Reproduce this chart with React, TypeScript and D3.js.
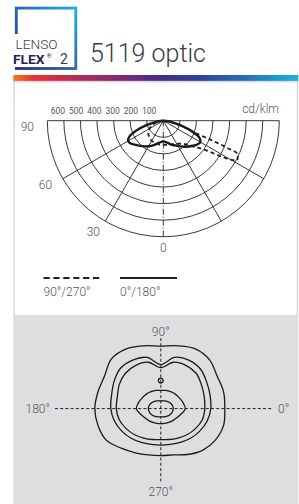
import React from 'react';
import * as d3 from 'd3';

// polar diagram (cd/klm), angle from nadir in degrees
const ringValues = [100, 200, 300, 400, 500, 600, 700];
const ringLabels = [100, 200, 300, 400, 500, 600];
const spokeAngles = [30, 60];
const angleLabels = ['0', '30', '60', '90'];

const solidAngles = [0, 10, 20, 30, 40, 50, 55, 60, 65, 70, 75, 80, 85, 90];
const plane0 = [125, 135, 155, 175, 205, 235, 250, 258, 240, 180, 105, 55, 20, 0];
const plane180 = [125, 135, 155, 178, 200, 225, 240, 245, 225, 170, 105, 50, 18, 0];

const dashAngles = [0, 10, 20, 30, 40, 45, 50, 55, 58, 60, 62, 64, 66, 67, 68, 69, 72, 76, 80, 85, 90];
const plane90 = [145, 148, 152, 162, 180, 205, 245, 307, 400, 470, 505, 500, 490, 420, 320, 215, 145, 85, 45, 15, 0];
const plane270 = [145, 145, 142, 140, 130, 125, 118, 108, 100, 95, 90, 84, 78, 75, 72, 69, 58, 45, 30, 14, 0];

const legendNames = ['90°/270°', '0°/180°'];

// isolux contours, angle 0 = right, counter clockwise, every 15 degrees
const isoAngles = d3.range(0, 360, 15);
const iso1 = [64, 65, 65, 69, 69, 65, 62.5, 65, 69, 70, 65, 65, 66, 65, 63, 56, 51, 48, 47, 48, 53, 59, 63, 65];
const iso2 = [50, 51, 53, 56, 56, 53, 44, 53, 56, 57, 54, 51, 50, 48, 45, 42, 39, 37, 36.5, 37, 39, 42, 45, 48];
const iso3 = [44, 45, 47, 50, 50, 48, 41, 48, 50, 50, 48, 45, 44.5, 43, 40, 37, 34, 32, 31, 32, 34, 37, 40, 43];
const iso4 = [24.5, 23, 21.5, 20.5, 19.5, 18.8, 18.3, 18.8, 19.5, 20.5, 21.5, 23, 24.5, 21, 18.5, 17, 16, 15.3, 15, 15.3, 16, 17, 18.5, 21];
const iso5 = [12.5, 12, 11, 10, 8.8, 8.1, 7.8, 8.1, 8.8, 10, 11, 12, 12.5, 12, 11.2, 10.3, 9.2, 8.5, 8.3, 8.5, 9.2, 10.3, 11.2, 12];
const isoDot = 28;
const isoLabels = ['0°', '90°', '180°', '270°'];

const W = 299;
const H = 504;
const font = 'Roboto, "Open Sans", sans-serif';

export default function App() {
  const cx = 163.3;
  const cy = 120.7;
  const R = 116;
  const r = d3.scaleLinear().domain([0, 700]).range([0, R]);
  const rad = (deg: number) => (deg * Math.PI) / 180;

  const polar = d3
    .lineRadial<[number, number]>()
    .angle((d) => d[0])
    .radius((d) => r(d[1]))
    .curve(d3.curveCatmullRom.alpha(0.5));

  const both = (angles: number[], left: number[], right: number[]) => {
    const pts: [number, number][] = [];
    for (let i = angles.length - 1; i >= 0; i--) pts.push([Math.PI + rad(angles[i]), left[i]]);
    for (let i = 1; i < angles.length; i++) pts.push([Math.PI - rad(angles[i]), right[i]]);
    return polar(pts) || '';
  };

  const ringPath = (v: number) => {
    const p = d3.path();
    p.moveTo(cx + r(v), cy);
    p.arc(cx, cy, r(v), 0, Math.PI);
    return p.toString();
  };

  // lower plot
  const ix = 160.8;
  const iy = 408.6;
  const s = d3.scaleLinear().domain([0, 10]).range([0, 10]);
  const iso = d3
    .lineRadial<[number, number]>()
    .angle((d) => Math.PI / 2 - rad(d[0]))
    .radius((d) => s(d[1]))
    .curve(d3.curveCatmullRomClosed.alpha(0.5));
  const contour = (vals: number[]) => iso(isoAngles.map((a, i) => [a, vals[i]] as [number, number])) || '';

  const grad = [
    ['0%', '#f47a20'],
    ['7%', '#e8313a'],
    ['22%', '#b82a55'],
    ['38%', '#7e2a74'],
    ['52%', '#452b88'],
    ['66%', '#2f4596'],
    ['82%', '#2a70b3'],
    ['100%', '#17b6de'],
  ];

  const labelColor = '#555';

  return (
    <svg width={W} height={H} style={{ position: 'absolute', left: 0, top: 0, fontFamily: font }}>
      <defs>
        <linearGradient id="bar" x1="0" x2="1" y1="0" y2="0">
          {grad.map(([o, c]) => (
            <stop key={o} offset={o} stopColor={c} />
          ))}
        </linearGradient>
        <linearGradient id="logo" x1="0" y1="1" x2="1" y2="0">
          <stop offset="0%" stopColor="#2b2e80" />
          <stop offset="45%" stopColor="#2a5fae" />
          <stop offset="100%" stopColor="#18b0e0" />
        </linearGradient>
      </defs>
      <rect x={0} y={0} width={W} height={H} fill="#fff" />

      {/* logo */}
      <rect x={16.3} y={8.1} width={59.5} height={60.4} fill="none" stroke="url(#logo)" strokeWidth={2.8} />
      <rect x={12} y={34} width={8} height={33} fill="#fff" />
      <text x={15.5} y={48.6} fontSize={13.5} fontWeight={300} fill="#3a3a3a" textLength={42} lengthAdjust="spacingAndGlyphs">
        LENSO
      </text>
      <text x={13} y={64} fontSize={13} fontWeight={700} fill="#1f2550" textLength={31.5} lengthAdjust="spacingAndGlyphs">
        FLEX
      </text>
      <text x={46.8} y={58.3} fontSize={6} fontWeight={700} fill="#1f2550">
        ®
      </text>
      <text x={60} y={64} fontSize={14} fontWeight={400} fill="#2a3a70">
        2
      </text>
      <text x={90} y={61.8} fontSize={25} fontWeight={300} fill="#3c3c3c">
        5119 optic
      </text>

      {/* gradient bar and panels */}
      <rect x={13.3} y={75} width={285} height={6.7} fill="url(#bar)" />
      <rect x={14.2} y={81.7} width={283.3} height={234} fill="#fff" stroke="#dcdcdc" strokeWidth={1.7} />
      <rect x={13.3} y={315} width={285} height={H - 315} fill="#dddee0" />

      {/* polar grid */}
      <g fill="none" stroke="#222" strokeWidth={0.9}>
        {ringValues.map((v) => (
          <path key={v} d={ringPath(v)} />
        ))}
        <line x1={cx - R} x2={cx + R} y1={cy} y2={cy} />
        {spokeAngles.flatMap((a) => [-1, 1].map((side) => (
          <line
            key={`${a}${side}`}
            x1={cx}
            y1={cy}
            x2={cx + side * R * Math.sin(rad(a))}
            y2={cy + R * Math.cos(rad(a))}
          />
        )))}
        <line x1={cx} x2={cx} y1={cy} y2={cy + R} strokeDasharray="6 2 1 2" />
      </g>

      {/* curves */}
      <g transform={`translate(${cx},${cy})`} fill="none">
        <path d={both(dashAngles, plane270, plane90)} stroke="#222" strokeWidth={1.8} strokeDasharray="4 3" />
        <path d={both(solidAngles, plane180, plane0)} stroke="#1a1a1a" strokeWidth={2.4} />
      </g>

      {/* polar labels */}
      <g fill={labelColor} fontSize={8.5} textAnchor="middle">
        {ringLabels.map((v) => (
          <text key={v} x={cx - r(v) * 1.1 + 4} y={113.5}>
            {v}
          </text>
        ))}
      </g>
      <text x={279} y={112.7} fontSize={12} fill={labelColor} textAnchor="end" fontWeight={300}>
        cd/klm
      </text>
      <g fill={labelColor} fontSize={12} fontWeight={300} textAnchor="middle">
        {angleLabels.map((l) => {
          const a = +l;
          const rr = R + 14;
          const off = a === 90 ? 20 : a === 0 ? 0 : 12;
          return (
            <text key={l} x={cx - (R + off) * Math.sin(rad(a)) - (a === 60 ? 7 : a === 30 ? 6 : 0)} y={cy + (a === 90 ? 0 : rr - 2) * Math.cos(rad(a)) + (a === 90 ? 10.5 : a === 0 ? 3 : 4)}>
              {l}
            </text>
          );
        })}
      </g>

      {/* legend */}
      <line x1={43.5} x2={100} y1={278} y2={278} stroke="#222" strokeWidth={2.2} strokeDasharray="6.2 3.7" />
      <line x1={120} x2={177} y1={278} y2={278} stroke="#222" strokeWidth={2.2} />
      <g fill={labelColor} fontSize={12} fontWeight={300}>
        <text x={43.5} y={295.5}>{legendNames[0]}</text>
        <text x={120} y={295.5}>{legendNames[1]}</text>
      </g>

      {/* isolux plot */}
      <g stroke="#222" strokeWidth={1} strokeDasharray="3 2.2">
        <line x1={55} x2={273} y1={iy} y2={iy} />
        <line x1={ix} x2={ix} y1={338} y2={482} />
      </g>
      <g transform={`translate(${ix},${iy})`} fill="none" stroke="#1a1a1a" strokeWidth={1.3}>
        {[iso1, iso2, iso3, iso4, iso5].map((c, i) => (
          <path key={i} d={contour(c)} />
        ))}
        <circle cx={0} cy={-s(isoDot)} r={2.4} />
      </g>
      <g fill={labelColor} fontSize={12} fontWeight={300}>
        <text x={278} y={413}>{isoLabels[0]}</text>
        <text x={ix} y={336} textAnchor="middle">{isoLabels[1]}</text>
        <text x={50} y={413} textAnchor="end">{isoLabels[2]}</text>
        <text x={ix} y={496} textAnchor="middle">{isoLabels[3]}</text>
      </g>
    </svg>
  );
}
